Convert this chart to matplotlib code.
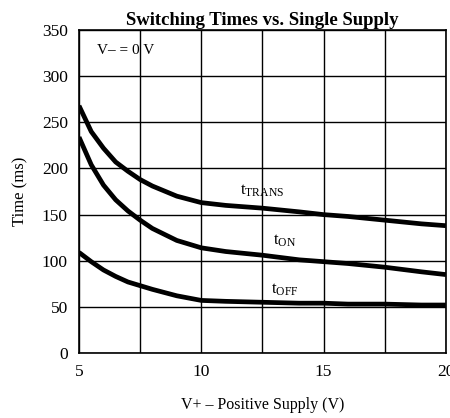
import matplotlib
matplotlib.use("Agg")
import matplotlib.pyplot as plt

plt.rcParams['font.family'] = ['Liberation Serif', 'DejaVu Serif']
plt.rcParams['mathtext.fontset'] = 'custom'
plt.rcParams['mathtext.rm'] = 'Liberation Serif'
plt.rcParams['mathtext.it'] = 'Liberation Serif'

v = [5, 5.5, 6, 6.5, 7, 7.5, 8, 9, 10, 11, 12.5, 14, 15, 16, 17.5, 19, 20]
t_trans = [268, 240, 222, 207, 197, 188, 181, 170, 163, 160, 157, 153, 150, 148, 144, 140, 138]
t_on = [234, 204, 182, 166, 154, 144, 135, 122, 114, 110, 106, 101, 99, 97, 93, 88, 85]
t_off = [109, 99, 90, 83, 77, 73, 69, 62, 57, 56, 55, 54, 54, 53, 53, 52, 52]

xticks = [5, 10, 15, 20]
yticks = [0, 50, 100, 150, 200, 250, 300, 350]

fig = plt.figure(figsize=(4.5, 4.18), dpi=100)
ax = fig.add_axes([0.1756, 0.1555, 0.815, 0.7725])

for y in [t_trans, t_on, t_off]:
    ax.plot(v, y, color='black', lw=3.4, solid_capstyle='butt',
            solid_joinstyle='round', zorder=3)

ax.set_xlim(5, 20)
ax.set_ylim(0, 350)
ax.set_xticks(xticks)
ax.set_yticks(yticks)
ax.set_xticks([7.5, 12.5, 17.5], minor=True)
ax.grid(True, which='both', color='black', lw=1.0)
ax.tick_params(which='both', length=0, labelsize=12.5, pad=8)
for s in ax.spines.values():
    s.set_linewidth(1.2)

ax.text(12.5, 176, r'$\mathrm{t}_{\mathrm{TRANS}}$', fontsize=12, ha='center', va='center')
ax.text(13.4, 122, r'$\mathrm{t}_{\mathrm{ON}}$', fontsize=12, ha='center', va='center')
ax.text(13.4, 68, r'$\mathrm{t}_{\mathrm{OFF}}$', fontsize=12, ha='center', va='center')
ax.text(5.75, 328, 'V\u2013 = 0 V', fontsize=11, ha='left', va='center')

ax.set_title('Switching Times vs. Single Supply', fontsize=13.5, fontweight='bold', pad=4)
ax.set_xlabel('V+ \u2013 Positive Supply (V)', fontsize=11.5, labelpad=12)
ax.set_ylabel('Time (ms)', fontsize=12, labelpad=10)

fig.savefig('out.png', dpi=100)
